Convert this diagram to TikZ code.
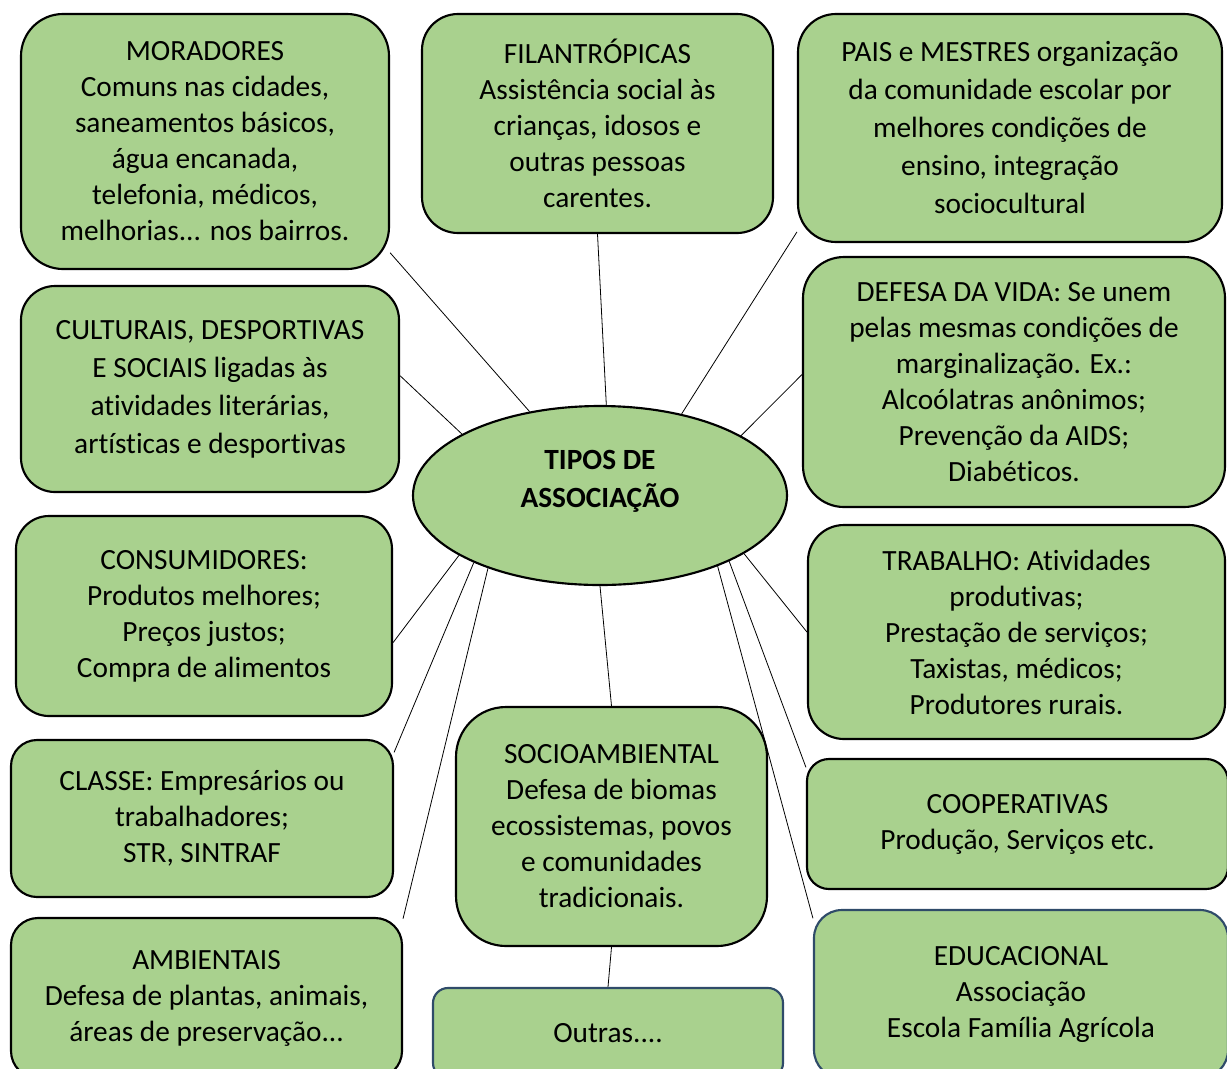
\documentclass[tikz,border=0pt]{standalone}
\usepackage{fontspec}
\setmainfont{Carlito}[Ligatures=NoCommon]
\usepackage{tikz}
\usetikzlibrary{shapes.geometric}

\definecolor{boxgreen}{RGB}{169,209,142}
\definecolor{boxblue}{RGB}{47,75,105}

\begin{document}
\begin{tikzpicture}[x=0.75pt,y=0.75pt,yscale=-1,xscale=1,
    assoc/.style n args={3}{draw=black, fill=boxgreen, line width=1.6pt, align=center, inner sep=0pt,
        minimum width=#1*0.75pt, minimum height=#2*0.75pt, rounded corners=#3*0.75pt,
        font=\fontsize{22}{27}\selectfont},
    link/.style={line width=0.6pt}]
                \useasboundingbox (0,0) rectangle (1227,1068);
                \clip (0,0) rectangle (1227,1068);
                %Shape: Ellipse [id:tipos]
                \node [ellipse, draw=black, fill=boxgreen, line width=1.6pt, inner sep=0pt,
                    minimum width=374*0.75pt, minimum height=179*0.75pt] (tipos) at (600,495.5) {};
                % Text Node
                \node [align=center, font=\fontsize{22}{28.5}\selectfont\bfseries] (tiposlabel) at (600,481) {TIPOS DE\\ASSOCIAÇÃO};

                %Rounded Rect [id:moradores]
                \node [assoc={368}{255}{42}] (moradores) at (205,141.5) {MORADORES\\Comuns nas cidades,\\saneamentos básicos,\\água encanada,\\telefonia, médicos,\\melhorias... nos bairros.};
                %Rounded Rect [id:filantropicas]
                \node [assoc={351}{219}{36}] (filantropicas) at (597.5,123.5) {FILANTRÓPICAS\\Assistência social às\\crianças, idosos e\\outras pessoas\\carentes.};
                %Rounded Rect [id:pais]
                \node [assoc={424}{228}{38}, font=\fontsize{22}{28.5}\selectfont] (pais) at (1010,128) {PAIS e MESTRES organização\\da comunidade escolar por\\melhores condições de\\ensino, integração\\sociocultural};
                %Rounded Rect [id:culturais]
                \node [assoc={378}{206}{34}, font=\fontsize{22}{28.5}\selectfont] (culturais) at (210,389) {CULTURAIS, DESPORTIVAS\\E SOCIAIS ligadas às\\atividades literárias,\\artísticas e desportivas};
                %Rounded Rect [id:defesa]
                \node [assoc={422}{250}{41}] (defesa) at (1014,382) {DEFESA DA VIDA: Se unem\\pelas mesmas condições de\\marginalização. Ex.:\\Alcoólatras anônimos;\\Prevenção da AIDS;\\Diabéticos.};
                %Rounded Rect [id:consumidores]
                \node [assoc={376}{200}{33}] (consumidores) at (204,616) {CONSUMIDORES:\\Produtos melhores;\\Preços justos;\\Compra de alimentos};
                %Rounded Rect [id:trabalho]
                \node [assoc={417}{214}{36}] (trabalho) at (1016.5,632) {TRABALHO: Atividades\\produtivas;\\Prestação de serviços;\\Taxistas, médicos;\\Produtores rurais.};
                %Rounded Rect [id:classe]
                \node [assoc={382}{157}{26}] (classe) at (202,818.5) {CLASSE: Empresários ou\\trabalhadores;\\STR, SINTRAF};
                %Rounded Rect [id:socioambiental]
                \node [assoc={311}{239}{50}] (socioambiental) at (611.5,826.5) {SOCIOAMBIENTAL\\Defesa de biomas\\ecossistemas, povos\\e comunidades\\tradicionais.};
                %Rounded Rect [id:cooperativas]
                \node [assoc={421}{130}{22}] (cooperativas) at (1017.5,824) {COOPERATIVAS\\Produção, Serviços etc.};
                %Rounded Rect [id:ambientais]
                \node [assoc={391}{160}{27}] (ambientais) at (206.5,998) {AMBIENTAIS\\Defesa de plantas, animais,\\áreas de preservação...};
                %Rounded Rect [id:outras]
                \node [assoc={350}{90}{15}, draw=boxblue] (outras) at (608,1033) {Outras....};
                %Rounded Rect [id:educacional]
                \node [assoc={414}{168}{28}, draw=boxblue] (educacional) at (1021,994) {EDUCACIONAL\\Associação\\Escola Família Agrícola};

                %Straight Lines
                \draw [link] (tipos.130) -- (moradores.-31);
                \draw [link] (tipos.86) -- (filantropicas.south);
                \draw [link] (tipos.45) -- (pais.206);
                \draw [link] (tipos.156) -- (culturais.4);
                \draw [link] (tipos.23) -- (defesa.178);
                \draw [link] (tipos.203) -- (consumidores.-8);
                \draw [link] (tipos.208) -- (classe.19);
                \draw [link] (tipos.213) -- (ambientais.22);
                \draw [link] (tipos.south) -- (socioambiental.north);
                \draw [link] (tipos.338) -- (trabalho.west);
                \draw [link] (tipos.333) -- (cooperativas.165);
                \draw [link] (tipos.329) -- (educacional.160);
                \draw [link] (socioambiental.south) -- (outras.north);
\end{tikzpicture}
\end{document}
